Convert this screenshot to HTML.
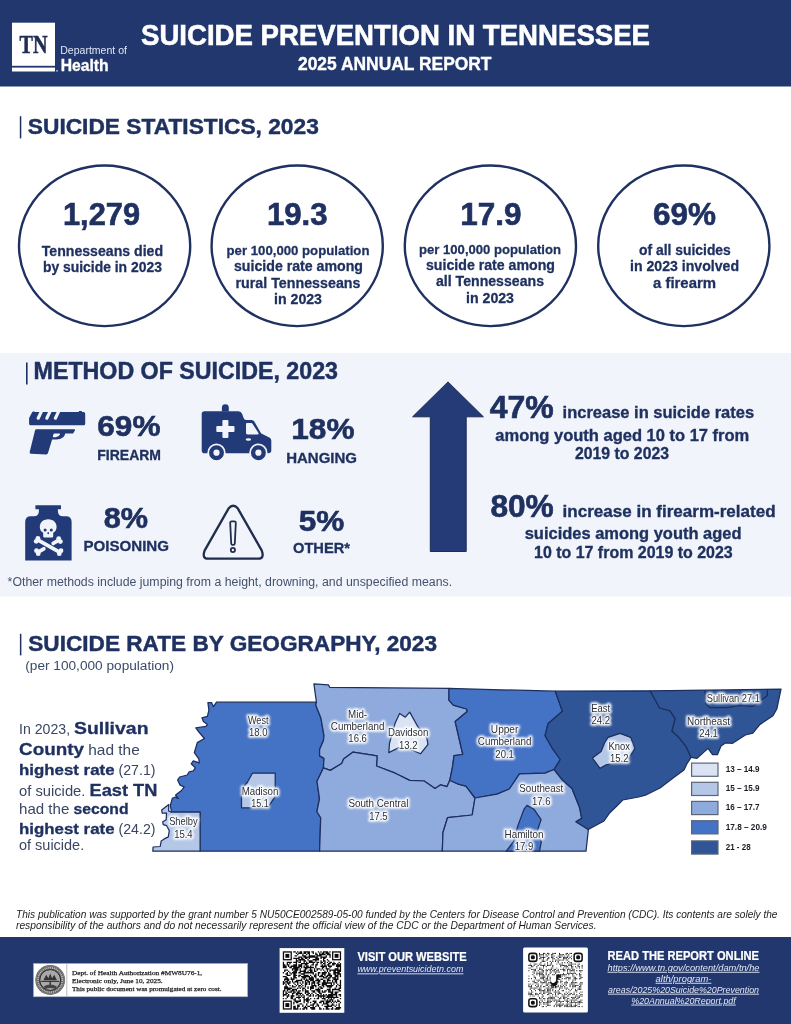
<!DOCTYPE html>
<html lang="en"><head><meta charset="utf-8"><title>Suicide Prevention in Tennessee - 2025 Annual Report</title>
<style>
html,body{margin:0;padding:0;background:#fff}
body{width:791px;height:1024px;overflow:hidden;font-family:'Liberation Sans', Arial, sans-serif}
svg{display:block}
</style></head><body>
<svg width="791" height="1024" viewBox="0 0 791 1024">
<g font-family="'Liberation Sans', Arial, sans-serif" fill="#1f3160">
<rect x="0" y="0" width="791" height="86.5" fill="#21376e"/>
<rect x="12" y="22.7" width="43" height="43.1" fill="#fff"/>
<rect x="12" y="67.6" width="43" height="3.9" fill="#fff"/>
<rect x="56.4" y="70.2" width="1.3" height="1.3" fill="#fff"/>
<text x="19.5" y="52.5" font-size="24.3" font-weight="bold" stroke="#1f2d55" stroke-width="0.49" fill="#1f2d55" textLength="28" lengthAdjust="spacingAndGlyphs" font-family="'Liberation Serif', 'Times New Roman', serif">TN</text>
<text x="60.2" y="54.2" font-size="10.97" fill="#dfe6f5" textLength="66.8" lengthAdjust="spacingAndGlyphs">Department of</text>
<text x="60.7" y="71.1" font-size="16.77" font-weight="bold" stroke="#fff" stroke-width="0.34" fill="#fff" textLength="48" lengthAdjust="spacingAndGlyphs">Health</text>
<text x="141" y="45.2" font-size="28.98" font-weight="bold" stroke="#fff" stroke-width="0.58" fill="#fff" textLength="509" lengthAdjust="spacingAndGlyphs">SUICIDE PREVENTION IN TENNESSEE</text>
<text x="298" y="69.7" font-size="17.59" font-weight="bold" stroke="#fff" stroke-width="0.35" fill="#fff" textLength="193.5" lengthAdjust="spacingAndGlyphs">2025 ANNUAL REPORT</text>
<rect x="19.8" y="116.2" width="1.5" height="22.2" fill="#1f3160"/>
<text x="27.8" y="133.5" font-size="22.77" font-weight="bold" stroke="#1f3160" stroke-width="0.46" textLength="291" lengthAdjust="spacingAndGlyphs">SUICIDE STATISTICS, 2023</text>
<ellipse cx="104.6" cy="245.8" rx="85.6" ry="80.3" fill="#fff" stroke="#1f3160" stroke-width="2.4"/>
<ellipse cx="297.2" cy="245.8" rx="85.6" ry="80.3" fill="#fff" stroke="#1f3160" stroke-width="2.4"/>
<ellipse cx="490.4" cy="245.8" rx="85.6" ry="80.3" fill="#fff" stroke="#1f3160" stroke-width="2.4"/>
<ellipse cx="683.8" cy="245.8" rx="85.6" ry="80.3" fill="#fff" stroke="#1f3160" stroke-width="2.4"/>
<text x="101.5" y="225.3" font-size="31.05" font-weight="bold" stroke="#1f3160" stroke-width="0.62" text-anchor="middle" textLength="77" lengthAdjust="spacingAndGlyphs">1,279</text>
<text x="102.4" y="256" font-size="14.49" font-weight="bold" stroke="#1f3160" stroke-width="0.29" text-anchor="middle" textLength="121.3" lengthAdjust="spacingAndGlyphs">Tennesseans died</text>
<text x="102.4" y="272.3" font-size="14.49" font-weight="bold" stroke="#1f3160" stroke-width="0.29" text-anchor="middle" textLength="119" lengthAdjust="spacingAndGlyphs">by suicide in 2023</text>
<text x="297.3" y="225.3" font-size="31.05" font-weight="bold" stroke="#1f3160" stroke-width="0.62" text-anchor="middle" textLength="60.7" lengthAdjust="spacingAndGlyphs">19.3</text>
<text x="298" y="255" font-size="13.66" font-weight="bold" stroke="#1f3160" stroke-width="0.27" text-anchor="middle" textLength="143" lengthAdjust="spacingAndGlyphs">per 100,000 population</text>
<text x="298.5" y="271.4" font-size="14.49" font-weight="bold" stroke="#1f3160" stroke-width="0.29" text-anchor="middle" textLength="129" lengthAdjust="spacingAndGlyphs">suicide rate among</text>
<text x="298" y="287.8" font-size="14.49" font-weight="bold" stroke="#1f3160" stroke-width="0.29" text-anchor="middle" textLength="125" lengthAdjust="spacingAndGlyphs">rural Tennesseans</text>
<text x="298" y="304.2" font-size="14.49" font-weight="bold" stroke="#1f3160" stroke-width="0.29" text-anchor="middle" textLength="48" lengthAdjust="spacingAndGlyphs">in 2023</text>
<text x="490.9" y="225" font-size="31.05" font-weight="bold" stroke="#1f3160" stroke-width="0.62" text-anchor="middle" textLength="61.2" lengthAdjust="spacingAndGlyphs">17.9</text>
<text x="490" y="253.7" font-size="13.66" font-weight="bold" stroke="#1f3160" stroke-width="0.27" text-anchor="middle" textLength="142" lengthAdjust="spacingAndGlyphs">per 100,000 population</text>
<text x="490.5" y="269.6" font-size="14.49" font-weight="bold" stroke="#1f3160" stroke-width="0.29" text-anchor="middle" textLength="129" lengthAdjust="spacingAndGlyphs">suicide rate among</text>
<text x="490" y="285.8" font-size="14.49" font-weight="bold" stroke="#1f3160" stroke-width="0.29" text-anchor="middle" textLength="108" lengthAdjust="spacingAndGlyphs">all Tennesseans</text>
<text x="490" y="302.5" font-size="14.49" font-weight="bold" stroke="#1f3160" stroke-width="0.29" text-anchor="middle" textLength="48" lengthAdjust="spacingAndGlyphs">in 2023</text>
<text x="684.5" y="225.3" font-size="31.05" font-weight="bold" stroke="#1f3160" stroke-width="0.62" text-anchor="middle" textLength="63" lengthAdjust="spacingAndGlyphs">69%</text>
<text x="684.9" y="255" font-size="14.49" font-weight="bold" stroke="#1f3160" stroke-width="0.29" text-anchor="middle" textLength="91.8" lengthAdjust="spacingAndGlyphs">of all suicides</text>
<text x="684.5" y="271.4" font-size="14.49" font-weight="bold" stroke="#1f3160" stroke-width="0.29" text-anchor="middle" textLength="109" lengthAdjust="spacingAndGlyphs">in 2023 involved</text>
<text x="684.5" y="288.3" font-size="14.49" font-weight="bold" stroke="#1f3160" stroke-width="0.29" text-anchor="middle" textLength="63" lengthAdjust="spacingAndGlyphs">a firearm</text>
<rect x="0" y="353" width="791" height="243.5" fill="#f1f4fa"/>
<rect x="26" y="362.5" width="1.6" height="22" fill="#1f3160"/>
<text x="33.6" y="379.3" font-size="23.08" font-weight="bold" stroke="#1f3160" stroke-width="0.46" textLength="304.4" lengthAdjust="spacingAndGlyphs">METHOD OF SUICIDE, 2023</text>
<g fill="#233a78"><path d="M29.1 417.9 L32.3 412 Q32.8 411.2 33.7 411.5 L35.4 412.1 H78.6 L79.2 411 H81.6 L82.2 412.1 H83.6 Q85.2 412.1 85.2 413.7 V423.7 Q85.2 425.3 83.6 425.3 H30.7 Q29.1 425.3 29.1 423.7 Z"/><path fill-rule="evenodd" d="M36.4 429.3 H74.2 Q75.6 429.3 74.9 430.5 L73.4 433 Q73 433.6 72.2 433.6 H65.2 C64.6 437.4 61.2 439.4 56.6 439.4 H52.1 L48 453 Q47.6 454.4 46.2 454.4 L31 453.7 Q29.2 453.6 29.7 451.9 L35 430.4 Q35.3 429.3 36.4 429.3 Z M54.2 433.6 H59.4 Q60.4 433.6 60 434.6 Q58.8 436.9 55.6 437.2 H53.6 Q52.6 437.2 52.9 436.2 L53.5 434.3 Q53.7 433.6 54.2 433.6 Z"/><g stroke="#f1f4fa" stroke-width="3.2" stroke-linecap="round"><path d="M42.3 409.6 L38.2 418.2 M50.9 409.6 L46.8 418.2 M59.5 409.6 L55.4 418.2"/></g></g>
<text x="97.3" y="436.2" font-size="28.98" font-weight="bold" stroke="#1f3160" stroke-width="0.58" textLength="63.2" lengthAdjust="spacingAndGlyphs">69%</text>
<text x="97.3" y="460.2" font-size="14.8" font-weight="bold" stroke="#1f3160" stroke-width="0.3" textLength="63.7" lengthAdjust="spacingAndGlyphs">FIREARM</text>
<g fill="#233a78"><path d="M221.9 411.5 V407.7 Q221.9 404.3 225.35 404.3 Q228.8 404.3 228.8 407.7 V411.5 Z"/><path fill-rule="evenodd" d="M204.5 411.3 H238.4 Q241.2 411.3 242.2 414 L243.6 418 Q244.2 420 246.2 420 H251.6 Q253.4 420 254.3 421.5 L260.6 432.6 Q261 433.3 261.8 433.7 L269.3 437.4 Q271.3 438.4 271.3 440.6 V450.2 Q271.3 453.2 268.3 453.2 H204.5 Q201.7 453.2 201.7 450.4 V414.1 Q201.7 411.3 204.5 411.3 Z M247 423.1 H251.2 Q252 423.1 252.5 423.8 L258.4 432.9 Q259.2 434.4 257.6 434.4 H247.4 Q246 434.4 246 433 V424.1 Q246 423.1 247 423.1 Z M223.4 419.9 H227.4 Q228.4 419.9 228.4 420.9 V426 H233.5 Q234.5 426 234.5 427 V431 Q234.5 432 233.5 432 H228.4 V437.1 Q228.4 438.1 227.4 438.1 H223.4 Q222.4 438.1 222.4 437.1 V432 H217.3 Q216.3 432 216.3 431 V427 Q216.3 426 217.3 426 H222.4 V420.9 Q222.4 419.9 223.4 419.9 Z"/><ellipse cx="248.4" cy="439.5" rx="2.7" ry="1.3" fill="#f1f4fa"/><circle cx="216.5" cy="452.7" r="8.3" stroke="#f1f4fa" stroke-width="1.7"/><circle cx="216.5" cy="452.7" r="3.1" fill="#f1f4fa"/><circle cx="258.4" cy="452.7" r="8.3" stroke="#f1f4fa" stroke-width="1.7"/><circle cx="258.4" cy="452.7" r="3.1" fill="#f1f4fa"/></g>
<text x="291.3" y="439.2" font-size="28.98" font-weight="bold" stroke="#1f3160" stroke-width="0.58" textLength="63.2" lengthAdjust="spacingAndGlyphs">18%</text>
<text x="286.2" y="462.7" font-size="14.8" font-weight="bold" stroke="#1f3160" stroke-width="0.3" textLength="70.8" lengthAdjust="spacingAndGlyphs">HANGING</text>
<g fill="#233a78"><path d="M35.4 505.2 H61 V509.3 H57.9 V511.2 Q57.9 516.2 63 516.2 H66 Q71.6 516.2 71.6 521.8 V560.5 H25.2 V521.8 Q25.2 516.2 30.8 516.2 H33.8 Q38.9 516.2 38.9 511.2 V509.3 H35.4 Z"/></g>
<g fill="#f1f4fa"><path d="M48.2 519.3 c-5.4 0 -8.4 3.6 -8.4 7.6 c0 2.6 1.2 4.6 3.4 5.8 v3.6 q0 1.2 1.2 1.2 h7.6 q1.2 0 1.2 -1.2 v-3.6 c2.2 -1.2 3.4 -3.2 3.4 -5.8 c0 -4 -3 -7.6 -8.4 -7.6 z"/><g stroke="#f1f4fa" stroke-width="3.8" stroke-linecap="round"><path d="M38.6 540.4 L58.6 551.6"/><path d="M38.9 551.6 L43.8 548.8 M53.2 543.4 L58 540.7"/></g><circle cx="37.9" cy="538.3" r="2.4"/><circle cx="36.2" cy="541.3" r="2.4"/><circle cx="58.7" cy="538.6" r="2.4"/><circle cx="60.4" cy="541.6" r="2.4"/><circle cx="38.2" cy="553.7" r="2.4"/><circle cx="36.5" cy="550.7" r="2.4"/><circle cx="59.3" cy="553.7" r="2.4"/><circle cx="61" cy="550.7" r="2.4"/></g>
<g fill="#233a78"><circle cx="45.1" cy="530" r="1.5"/><circle cx="51.3" cy="530" r="1.5"/><ellipse cx="48.2" cy="533.2" rx="0.8" ry="1.1"/></g>
<text x="103.7" y="528.2" font-size="28.98" font-weight="bold" stroke="#1f3160" stroke-width="0.58" textLength="44.3" lengthAdjust="spacingAndGlyphs">8%</text>
<text x="83.4" y="551.4" font-size="14.8" font-weight="bold" stroke="#1f3160" stroke-width="0.3" textLength="85.6" lengthAdjust="spacingAndGlyphs">POISONING</text>
<g fill="none" stroke="#212d4e" stroke-width="2.3" stroke-linejoin="round" stroke-linecap="round"><path d="M228.5 508.6 Q233.2 502.9 237.9 508.6 L261.8 550.6 Q264.6 558.8 258.2 558.7 H208.1 Q201.8 558.8 204.6 550.6 Z"/><path d="M230.2 523.2 Q230 521.4 231.8 521.4 H234.2 Q236 521.4 235.8 523.2 L234.8 543.4 Q234.7 544.8 233.5 544.8 H232.5 Q231.3 544.8 231.2 543.4 Z" stroke-width="1.8"/><circle cx="232.9" cy="550" r="2.1" stroke-width="1.8"/></g>
<text x="298.8" y="530.7" font-size="28.98" font-weight="bold" stroke="#1f3160" stroke-width="0.58" textLength="45.5" lengthAdjust="spacingAndGlyphs">5%</text>
<text x="293" y="553.4" font-size="14.8" font-weight="bold" stroke="#1f3160" stroke-width="0.3" textLength="57" lengthAdjust="spacingAndGlyphs">OTHER*</text>
<text x="7.6" y="586.3" font-size="12.01" fill="#44516e" textLength="444.5" lengthAdjust="spacingAndGlyphs">*Other methods include jumping from a height, drowning, and unspecified means.</text>
<path d="M448 381.9 L483.4 416.8 H466.2 V551.5 H430.3 V416.8 H412.6 Z" fill="#243b78" stroke="#1b2b55" stroke-width="1"/>
<text x="489.8" y="417.6" font-size="31.05" font-weight="bold" stroke="#1f3160" stroke-width="0.62" textLength="64" lengthAdjust="spacingAndGlyphs">47%</text>
<text x="562.6" y="417.8" font-size="16.77" font-weight="bold" stroke="#1f3160" stroke-width="0.34" textLength="191.5" lengthAdjust="spacingAndGlyphs">increase in suicide rates</text>
<text x="495.3" y="440.6" font-size="16.77" font-weight="bold" stroke="#1f3160" stroke-width="0.34" textLength="254" lengthAdjust="spacingAndGlyphs">among youth aged 10 to 17 from</text>
<text x="575" y="459" font-size="16.77" font-weight="bold" stroke="#1f3160" stroke-width="0.34" textLength="94" lengthAdjust="spacingAndGlyphs">2019 to 2023</text>
<text x="490.4" y="516.6" font-size="31.05" font-weight="bold" stroke="#1f3160" stroke-width="0.62" textLength="63.4" lengthAdjust="spacingAndGlyphs">80%</text>
<text x="562.6" y="516.8" font-size="16.77" font-weight="bold" stroke="#1f3160" stroke-width="0.34" textLength="213" lengthAdjust="spacingAndGlyphs">increase in firearm-related</text>
<text x="524.7" y="539.4" font-size="16.77" font-weight="bold" stroke="#1f3160" stroke-width="0.34" textLength="216.8" lengthAdjust="spacingAndGlyphs">suicides among youth aged</text>
<text x="534" y="558.4" font-size="16.77" font-weight="bold" stroke="#1f3160" stroke-width="0.34" textLength="198.7" lengthAdjust="spacingAndGlyphs">10 to 17 from 2019 to 2023</text>
<rect x="19.9" y="633.8" width="1.5" height="21.6" fill="#1f3160"/>
<text x="28.3" y="650.8" font-size="22.77" font-weight="bold" stroke="#1f3160" stroke-width="0.46" textLength="408.7" lengthAdjust="spacingAndGlyphs">SUICIDE RATE BY GEOGRAPHY, 2023</text>
<text x="25.3" y="670.2" font-size="12.42" fill="#3a4a6b" textLength="148.7" lengthAdjust="spacingAndGlyphs">(per 100,000 population)</text>
<text x="19" y="733.6" fill="#3a4663"><tspan font-size="14.5" textLength="55" lengthAdjust="spacingAndGlyphs">In 2023, </tspan><tspan font-size="17.3" font-weight="bold" fill="#1f3160" stroke="#1f3160" stroke-width="0.3" textLength="74.5" lengthAdjust="spacingAndGlyphs">Sullivan</tspan></text>
<text x="19" y="755.1" fill="#3a4663"><tspan font-size="17.3" font-weight="bold" fill="#1f3160" stroke="#1f3160" stroke-width="0.3" textLength="65" lengthAdjust="spacingAndGlyphs">County</tspan><tspan font-size="14.5" textLength="55.8" lengthAdjust="spacingAndGlyphs"> had the</tspan></text>
<text x="19" y="774.8" fill="#3a4663"><tspan font-size="14.5" font-weight="bold" fill="#1f3160" stroke="#1f3160" stroke-width="0.3" textLength="95.5" lengthAdjust="spacingAndGlyphs">highest rate</tspan><tspan font-size="14.5" textLength="41" lengthAdjust="spacingAndGlyphs"> (27.1)</tspan></text>
<text x="19" y="795.6" fill="#3a4663"><tspan font-size="14.5" textLength="70.5" lengthAdjust="spacingAndGlyphs">of suicide. </tspan><tspan font-size="17.3" font-weight="bold" fill="#1f3160" stroke="#1f3160" stroke-width="0.3" textLength="67.8" lengthAdjust="spacingAndGlyphs">East TN</tspan></text>
<text x="19" y="814.3" fill="#3a4663"><tspan font-size="14.5" textLength="54.5" lengthAdjust="spacingAndGlyphs">had the </tspan><tspan font-size="14.5" font-weight="bold" fill="#1f3160" stroke="#1f3160" stroke-width="0.3" textLength="55" lengthAdjust="spacingAndGlyphs">second</tspan></text>
<text x="19" y="833.5" fill="#3a4663"><tspan font-size="14.5" font-weight="bold" fill="#1f3160" stroke="#1f3160" stroke-width="0.3" textLength="95.5" lengthAdjust="spacingAndGlyphs">highest rate</tspan><tspan font-size="14.5" textLength="41" lengthAdjust="spacingAndGlyphs"> (24.2)</tspan></text>
<text x="19" y="850.4" fill="#3a4663"><tspan font-size="14.5" textLength="65.2" lengthAdjust="spacingAndGlyphs">of suicide.</tspan></text>
<g stroke="#1c2f5e" stroke-width="1.25" stroke-linejoin="round">
<polygon points="216.5,702.2 213.5,706.7 211.5,702.6 207.9,702.6 208.9,710.2 207.4,716.3 201.9,717.8 203.4,721.4 207.4,724.4 205.9,726.4 195.8,727.9 199.3,732.5 204.4,738.5 197.3,742.6 194.3,752.7 198.8,758.8 199.3,762.8 193.3,760.8 191.2,763.8 195.3,767.9 193.3,770.9 189.2,771.9 187.2,775.0 179.6,777.0 177.6,780.0 180.1,785.1 184.2,786.8 181.5,790.5 175.6,795.0 178.4,798.6 175.3,797.0 172.3,798.4 170.3,805.5 171.3,810.6 171.3,812.1 200.1,812.1 200.1,851.2 319.6,851.2 320.7,817.8 316.9,811.5 319.5,798.8 317.0,781.3 323.4,767.9 324.0,758.4 319.6,755.9 319.6,749.6 323.4,740.7 324.0,735.7 320.9,718.0 315.8,705.3 316.4,702.2" fill="#4472c4"/>
<polygon points="171.3,812.1 168.6,811.0 168.8,804.5 161.7,810.1 162.2,813.1 166.5,813.0 166.2,819.7 162.7,821.7 163.2,824.7 166.7,825.7 169.3,830.8 168.3,836.9 164.2,838.9 161.2,840.9 160.2,846.5 153.1,847.0 152.8,851.2 200.1,851.2 200.1,812.1" fill="#b4c7e7"/>
<polygon points="252.4,773.2 275.2,773.2 275.2,796.4 267.6,807.8 241.5,807.8 241.5,788.8 247.3,782.5" fill="#b4c7e7"/>
<polygon points="313.9,683.8 328.4,684.9 329.7,687.3 449.0,688.4 448.9,700.1 453.3,705.2 466.6,709.0 467.2,711.5 455.2,721.6 462.8,754.5 454.0,755.7 452.7,765.9 449.8,780.3 447.0,786.7 440.7,784.8 435.0,788.6 424.2,781.0 409.7,780.4 395.2,773.2 376.5,766.0 377.1,755.9 353.1,752.1 343.6,759.0 341.7,763.5 330.3,770.4 323.4,767.9 324.0,758.4 319.6,755.9 319.6,749.6 323.4,740.7 324.0,735.7 320.9,718.0 315.8,705.3 316.4,702.2 313.9,683.8" fill="#8faadc"/>
<polygon points="399.6,713.4 405.3,717.2 409.7,712.1 417.9,726.7 426.8,738.0 428.0,744.4 420.5,753.8 410.3,749.4 399.0,747.5 388.8,752.6 389.5,743.1 395.2,722.9" fill="#dae3f3"/>
<polygon points="323.4,767.9 317.0,781.3 319.5,798.8 316.9,811.5 320.7,817.8 319.6,851.2 442.3,851.2 443.0,832.5 447.5,817.7 472.2,815.0 475.0,798.0 466.0,786.1 458.4,784.2 449.8,780.3 447.0,786.7 440.7,784.8 435.0,788.6 424.2,781.0 409.7,780.4 395.2,773.2 376.5,766.0 377.1,755.9 353.1,752.1 343.6,759.0 341.7,763.5 330.3,770.4 323.4,767.9" fill="#8faadc"/>
<polygon points="449.0,688.4 448.9,700.1 453.3,705.2 466.6,709.0 467.2,711.5 455.2,721.6 462.8,754.5 454.0,755.7 452.7,765.9 449.8,780.3 458.4,784.2 466.0,786.1 475.0,798.0 497.0,794.2 509.4,789.0 519.5,773.9 545.0,773.2 554.1,769.5 560.3,759.5 552.0,747.8 545.1,735.6 548.0,723.8 562.4,711.2 555.3,691.2" fill="#4472c4"/>
<polygon points="554.1,769.5 545.0,773.2 519.5,773.9 509.4,789.0 497.0,794.2 475.0,798.0 472.2,815.0 447.5,817.7 443.0,832.5 442.3,851.2 586.0,851.2 588.4,829.5 576.0,821.7 581.7,818.4 579.6,807.4 572.0,788.5 562.5,780.0 554.1,769.5" fill="#8faadc"/>
<polygon points="527.0,805.4 534.1,809.4 541.1,819.6 537.0,831.8 541.3,841.9 539.5,851.2 506.2,851.2 513.4,841.9 517.9,825.6 523.9,809.4" fill="#4472c4"/>
<polygon points="555.3,691.2 562.4,711.2 548.0,723.8 545.1,735.6 552.0,747.8 560.3,759.5 554.1,769.5 562.5,780.0 572.0,788.5 579.6,807.4 581.7,818.4 576.0,821.7 588.4,829.5 591.0,828.0 604.0,821.0 609.3,813.4 616.3,806.5 622.7,800.0 638.7,797.0 645.4,795.2 660.0,788.0 674.4,777.0 684.0,770.0 687.0,763.6 691.0,757.3 686.0,746.3 678.2,736.7 672.0,731.0 675.2,718.6 669.8,710.6 659.6,708.0 650.2,690.8" fill="#2f5597"/>
<polygon points="608.0,737.4 620.0,733.4 630.7,737.4 634.9,748.4 629.3,757.6 617.5,762.6 606.2,764.8 600.0,768.4 592.4,758.0 601.1,751.5 604.5,743.0" fill="#b4c7e7"/>
<polygon points="650.2,690.8 659.6,708.0 669.8,710.6 675.2,718.6 672.0,731.0 678.2,736.7 686.0,746.3 691.0,757.3 697.0,758.4 708.0,748.4 712.6,754.7 717.4,754.7 721.0,746.0 725.4,742.9 732.6,743.3 745.4,735.0 752.8,733.2 760.0,724.4 773.0,715.8 776.8,709.0 781.0,689.2" fill="#2f5597"/>
<polyline points="705.0,690.2 705.4,703.5 709.8,707.5 727.5,707.6 740.2,705.4 752.8,706.4 767.4,695.6 767.4,689.4" fill="none"/>
</g>
<defs><filter id="glow" x="-30%" y="-30%" width="160%" height="160%"><feGaussianBlur stdDeviation="1.2"/></filter></defs>
<g font-size="10.1" text-anchor="middle" stroke="#fff" stroke-width="3.6" stroke-linejoin="round" fill="#fff" filter="url(#glow)">
<text x="258.2" y="723.7" textLength="20.5" lengthAdjust="spacingAndGlyphs">West</text>
<text x="258.2" y="735.9" textLength="18.5" lengthAdjust="spacingAndGlyphs">18.0</text>
<text x="260" y="795.1" textLength="36.7" lengthAdjust="spacingAndGlyphs">Madison</text>
<text x="260" y="807.2" textLength="17.5" lengthAdjust="spacingAndGlyphs">15.1</text>
<text x="183.4" y="825.4" textLength="28.5" lengthAdjust="spacingAndGlyphs">Shelby</text>
<text x="183.4" y="837.6" textLength="18.5" lengthAdjust="spacingAndGlyphs">15.4</text>
<text x="357.6" y="717.5" textLength="19" lengthAdjust="spacingAndGlyphs">Mid-</text>
<text x="357.6" y="729.6" textLength="53.5" lengthAdjust="spacingAndGlyphs">Cumberland</text>
<text x="357.6" y="742.3" textLength="18.5" lengthAdjust="spacingAndGlyphs">16.6</text>
<text x="408.2" y="735.9" textLength="40.5" lengthAdjust="spacingAndGlyphs">Davidson</text>
<text x="408.2" y="748.6" textLength="18.5" lengthAdjust="spacingAndGlyphs">13.2</text>
<text x="378.4" y="807.2" textLength="60" lengthAdjust="spacingAndGlyphs">South Central</text>
<text x="378.4" y="819.9" textLength="18.5" lengthAdjust="spacingAndGlyphs">17.5</text>
<text x="504.6" y="732.6" textLength="27.5" lengthAdjust="spacingAndGlyphs">Upper</text>
<text x="504.6" y="745.3" textLength="53.5" lengthAdjust="spacingAndGlyphs">Cumberland</text>
<text x="504.6" y="757.9" textLength="18.5" lengthAdjust="spacingAndGlyphs">20.1</text>
<text x="600.7" y="711.7" textLength="19" lengthAdjust="spacingAndGlyphs">East</text>
<text x="600.7" y="723.8" textLength="18.5" lengthAdjust="spacingAndGlyphs">24.2</text>
<text x="541.3" y="792.1" textLength="44" lengthAdjust="spacingAndGlyphs">Southeast</text>
<text x="541.3" y="804.7" textLength="18.5" lengthAdjust="spacingAndGlyphs">17.6</text>
<text x="524" y="837.6" textLength="39" lengthAdjust="spacingAndGlyphs">Hamilton</text>
<text x="524" y="849.7" textLength="18.5" lengthAdjust="spacingAndGlyphs">17.9</text>
<text x="619.3" y="749.6" textLength="21.5" lengthAdjust="spacingAndGlyphs">Knox</text>
<text x="619.3" y="761.7" textLength="18.5" lengthAdjust="spacingAndGlyphs">15.2</text>
<text x="733.3" y="701.5" textLength="53.1" lengthAdjust="spacingAndGlyphs">Sullivan 27.1</text>
<text x="708.6" y="725.1" textLength="43" lengthAdjust="spacingAndGlyphs">Northeast</text>
<text x="708.6" y="737.2" textLength="18.5" lengthAdjust="spacingAndGlyphs">24.1</text>
</g>
<g font-size="10.1" text-anchor="middle" fill="#2b2f38">
<text x="258.2" y="723.7" textLength="20.5" lengthAdjust="spacingAndGlyphs">West</text>
<text x="258.2" y="735.9" textLength="18.5" lengthAdjust="spacingAndGlyphs">18.0</text>
<text x="260" y="795.1" textLength="36.7" lengthAdjust="spacingAndGlyphs">Madison</text>
<text x="260" y="807.2" textLength="17.5" lengthAdjust="spacingAndGlyphs">15.1</text>
<text x="183.4" y="825.4" textLength="28.5" lengthAdjust="spacingAndGlyphs">Shelby</text>
<text x="183.4" y="837.6" textLength="18.5" lengthAdjust="spacingAndGlyphs">15.4</text>
<text x="357.6" y="717.5" textLength="19" lengthAdjust="spacingAndGlyphs">Mid-</text>
<text x="357.6" y="729.6" textLength="53.5" lengthAdjust="spacingAndGlyphs">Cumberland</text>
<text x="357.6" y="742.3" textLength="18.5" lengthAdjust="spacingAndGlyphs">16.6</text>
<text x="408.2" y="735.9" textLength="40.5" lengthAdjust="spacingAndGlyphs">Davidson</text>
<text x="408.2" y="748.6" textLength="18.5" lengthAdjust="spacingAndGlyphs">13.2</text>
<text x="378.4" y="807.2" textLength="60" lengthAdjust="spacingAndGlyphs">South Central</text>
<text x="378.4" y="819.9" textLength="18.5" lengthAdjust="spacingAndGlyphs">17.5</text>
<text x="504.6" y="732.6" textLength="27.5" lengthAdjust="spacingAndGlyphs">Upper</text>
<text x="504.6" y="745.3" textLength="53.5" lengthAdjust="spacingAndGlyphs">Cumberland</text>
<text x="504.6" y="757.9" textLength="18.5" lengthAdjust="spacingAndGlyphs">20.1</text>
<text x="600.7" y="711.7" textLength="19" lengthAdjust="spacingAndGlyphs">East</text>
<text x="600.7" y="723.8" textLength="18.5" lengthAdjust="spacingAndGlyphs">24.2</text>
<text x="541.3" y="792.1" textLength="44" lengthAdjust="spacingAndGlyphs">Southeast</text>
<text x="541.3" y="804.7" textLength="18.5" lengthAdjust="spacingAndGlyphs">17.6</text>
<text x="524" y="837.6" textLength="39" lengthAdjust="spacingAndGlyphs">Hamilton</text>
<text x="524" y="849.7" textLength="18.5" lengthAdjust="spacingAndGlyphs">17.9</text>
<text x="619.3" y="749.6" textLength="21.5" lengthAdjust="spacingAndGlyphs">Knox</text>
<text x="619.3" y="761.7" textLength="18.5" lengthAdjust="spacingAndGlyphs">15.2</text>
<text x="733.3" y="701.5" textLength="53.1" lengthAdjust="spacingAndGlyphs">Sullivan 27.1</text>
<text x="708.6" y="725.1" textLength="43" lengthAdjust="spacingAndGlyphs">Northeast</text>
<text x="708.6" y="737.2" textLength="18.5" lengthAdjust="spacingAndGlyphs">24.1</text>
</g>
<rect x="691.6" y="763.1" width="26.4" height="13.2" fill="#dae3f3" stroke="#5d6477" stroke-width="1.2"/>
<text x="725.7" y="772.2" font-size="8.8" font-weight="bold" fill="#1a1d26" textLength="33.9" lengthAdjust="spacingAndGlyphs">13 – 14.9</text>
<rect x="691.6" y="782.3" width="26.4" height="13.2" fill="#b4c7e7" stroke="#5d6477" stroke-width="1.2"/>
<text x="725.7" y="791.3" font-size="8.8" font-weight="bold" fill="#1a1d26" textLength="33.9" lengthAdjust="spacingAndGlyphs">15 – 15.9</text>
<rect x="691.6" y="801.4" width="26.4" height="13.2" fill="#8faadc" stroke="#5d6477" stroke-width="1.2"/>
<text x="725.7" y="810.3" font-size="8.8" font-weight="bold" fill="#1a1d26" textLength="33.9" lengthAdjust="spacingAndGlyphs">16 – 17.7</text>
<rect x="691.6" y="820.7" width="26.4" height="13.2" fill="#4472c4" stroke="#5d6477" stroke-width="1.2"/>
<text x="725.7" y="829.6" font-size="8.8" font-weight="bold" fill="#1a1d26" textLength="41.2" lengthAdjust="spacingAndGlyphs">17.8 – 20.9</text>
<rect x="691.6" y="840.9" width="26.4" height="13.2" fill="#2f5597" stroke="#5d6477" stroke-width="1.2"/>
<text x="725.7" y="850.4" font-size="8.8" font-weight="bold" fill="#1a1d26" textLength="25" lengthAdjust="spacingAndGlyphs">21 - 28</text>
<text x="16" y="917.5" font-size="10.56" fill="#1c1c1c" textLength="761.5" lengthAdjust="spacingAndGlyphs" font-style="italic">This publication was supported by the grant number 5 NU50CE002589-05-00 funded by the Centers for Disease Control and Prevention (CDC). Its contents are solely the</text>
<text x="16" y="928.6" font-size="10.56" fill="#1c1c1c" textLength="580.5" lengthAdjust="spacingAndGlyphs" font-style="italic">responsibility of the authors and do not necessarily represent the official view of the CDC or the Department of Human Services.</text>
<rect x="0" y="937" width="791" height="87" fill="#21376e"/>
<rect x="33.4" y="963.4" width="214.3" height="33.4" fill="#fff" stroke="#9aa0ad" stroke-width="0.6"/>
<line x1="66.8" y1="963.6" x2="66.8" y2="996.6" stroke="#8a8f9a" stroke-width="0.6"/>
<g fill="none"><circle cx="50.2" cy="980" r="14.9" fill="#5a5a5a"/><circle cx="50.2" cy="980" r="13.9" stroke="#dedede" stroke-width="0.6" stroke-dasharray="0.7 0.6"/><circle cx="50.2" cy="980" r="12.2" stroke="#c8c8c8" stroke-width="1.6" stroke-dasharray="1.1 0.8"/><circle cx="50.2" cy="980" r="10.4" fill="#a9a9a9" stroke="#2e2e2e" stroke-width="1"/><path d="M41.2 981.4 h18" stroke="#333" stroke-width="1.1"/><path d="M43.4 980.2 l2.8 -5.4 l2.2 3.4 l1.8 -4.6 l1.8 4.6 l2.2 -3.4 l2.8 5.4 z" fill="#333"/><path d="M50.2 981 v5.4" stroke="#333" stroke-width="1.4"/><path d="M43.6 986.4 q6.6 -3.8 13.2 0 l-1.6 2.6 q-5 -2.2 -10 0 z" fill="#444"/></g>
<text x="72" y="974.6" font-size="7" fill="#1a1a1a" textLength="130.2" lengthAdjust="spacingAndGlyphs" font-family="'Liberation Serif', 'Times New Roman', serif" stroke="#1a1a1a" stroke-width="0.25">Dept. of Health Authorization #MW8U76-1,</text>
<text x="72" y="983.2" font-size="7" fill="#1a1a1a" textLength="90.7" lengthAdjust="spacingAndGlyphs" font-family="'Liberation Serif', 'Times New Roman', serif" stroke="#1a1a1a" stroke-width="0.25">Electronic only, June 10, 2025.</text>
<text x="72" y="991.3" font-size="7" fill="#1a1a1a" textLength="149.5" lengthAdjust="spacingAndGlyphs" font-family="'Liberation Serif', 'Times New Roman', serif" stroke="#1a1a1a" stroke-width="0.25">This public document was promulgated at zero cost.</text>
<rect x="279.6" y="948.1" width="64.7" height="64.7" rx="0" fill="#fff"/>
<path d="M293.2 951.9h2.6M297.1 951.9h1.3M299.6 951.9h2.6M303.5 951.9h6.5M311.3 951.9h2.6M317.8 951.9h1.3M320.4 951.9h1.3M323.0 951.9h5.2M329.4 951.9h1.3M295.8 953.2h1.3M298.3 953.2h3.9M303.5 953.2h2.6M307.4 953.2h2.6M312.6 953.2h1.3M315.2 953.2h1.3M319.1 953.2h1.3M321.7 953.2h2.6M325.6 953.2h3.9M297.1 954.5h1.3M302.2 954.5h1.3M306.1 954.5h1.3M308.7 954.5h1.3M315.2 954.5h2.6M319.1 954.5h6.5M326.8 954.5h3.9M294.5 955.8h2.6M302.2 955.8h3.9M308.7 955.8h6.5M316.5 955.8h5.2M325.6 955.8h1.3M329.4 955.8h1.3M298.3 957.1h3.9M303.5 957.1h14.3M320.4 957.1h6.5M329.4 957.1h1.3M293.2 958.4h6.5M300.9 958.4h2.6M304.8 958.4h2.6M308.7 958.4h1.3M315.2 958.4h3.9M320.4 958.4h1.3M323.0 958.4h2.6M295.8 959.7h1.3M298.3 959.7h6.5M307.4 959.7h1.3M312.6 959.7h6.5M323.0 959.7h1.3M326.8 959.7h1.3M295.8 961.0h2.6M299.6 961.0h1.3M303.5 961.0h2.6M308.7 961.0h3.9M315.2 961.0h1.3M320.4 961.0h1.3M323.0 961.0h2.6M328.1 961.0h1.3M282.8 962.3h1.3M286.7 962.3h5.2M293.2 962.3h3.9M298.3 962.3h2.6M303.5 962.3h1.3M306.1 962.3h1.3M308.7 962.3h6.5M316.5 962.3h2.6M320.4 962.3h2.6M324.3 962.3h1.3M326.8 962.3h1.3M329.4 962.3h2.6M333.3 962.3h1.3M338.5 962.3h1.3M282.8 963.6h1.3M286.7 963.6h1.3M289.3 963.6h1.3M295.8 963.6h1.3M300.9 963.6h7.8M312.6 963.6h1.3M316.5 963.6h1.3M320.4 963.6h1.3M323.0 963.6h2.6M328.1 963.6h2.6M332.0 963.6h3.9M337.2 963.6h1.3M339.8 963.6h1.3M282.8 964.9h2.6M286.7 964.9h2.6M293.2 964.9h3.9M298.3 964.9h3.9M304.8 964.9h2.6M311.3 964.9h2.6M315.2 964.9h2.6M321.7 964.9h1.3M324.3 964.9h1.3M326.8 964.9h2.6M332.0 964.9h2.6M335.9 964.9h5.2M282.8 966.2h3.9M288.0 966.2h1.3M290.6 966.2h6.5M298.3 966.2h3.9M303.5 966.2h1.3M306.1 966.2h2.6M310.0 966.2h1.3M315.2 966.2h1.3M320.4 966.2h6.5M328.1 966.2h3.9M335.9 966.2h5.2M282.8 967.5h3.9M289.3 967.5h2.6M293.2 967.5h6.5M300.9 967.5h1.3M303.5 967.5h10.4M315.2 967.5h1.3M321.7 967.5h2.6M325.6 967.5h1.3M329.4 967.5h1.3M337.2 967.5h1.3M339.8 967.5h1.3M291.9 968.8h6.5M299.6 968.8h1.3M304.8 968.8h2.6M310.0 968.8h1.3M313.9 968.8h1.3M316.5 968.8h3.9M321.7 968.8h1.3M325.6 968.8h3.9M334.6 968.8h3.9M339.8 968.8h1.3M284.1 970.1h3.9M291.9 970.1h1.3M294.5 970.1h3.9M299.6 970.1h1.3M303.5 970.1h2.6M308.7 970.1h3.9M313.9 970.1h1.3M316.5 970.1h1.3M320.4 970.1h1.3M323.0 970.1h1.3M326.8 970.1h1.3M329.4 970.1h11.7M284.1 971.4h1.3M288.0 971.4h1.3M293.2 971.4h3.9M299.6 971.4h6.5M307.4 971.4h1.3M310.0 971.4h2.6M313.9 971.4h2.6M324.3 971.4h1.3M326.8 971.4h1.3M329.4 971.4h1.3M333.3 971.4h2.6M337.2 971.4h3.9M282.8 972.7h1.3M286.7 972.7h1.3M289.3 972.7h1.3M291.9 972.7h5.2M298.3 972.7h2.6M303.5 972.7h10.4M317.8 972.7h2.6M321.7 972.7h5.2M328.1 972.7h1.3M333.3 972.7h6.5M285.4 974.0h2.6M290.6 974.0h1.3M293.2 974.0h2.6M300.9 974.0h3.9M312.6 974.0h1.3M315.2 974.0h1.3M317.8 974.0h1.3M321.7 974.0h3.9M328.1 974.0h2.6M333.3 974.0h2.6M337.2 974.0h3.9M286.7 975.3h3.9M293.2 975.3h3.9M298.3 975.3h2.6M303.5 975.3h5.2M310.0 975.3h1.3M313.9 975.3h2.6M317.8 975.3h1.3M320.4 975.3h2.6M324.3 975.3h1.3M326.8 975.3h5.2M334.6 975.3h3.9M339.8 975.3h1.3M282.8 976.6h3.9M293.2 976.6h2.6M298.3 976.6h1.3M300.9 976.6h9.1M311.3 976.6h1.3M313.9 976.6h2.6M319.1 976.6h5.2M325.6 976.6h2.6M329.4 976.6h2.6M334.6 976.6h3.9M339.8 976.6h1.3M285.4 977.9h2.6M290.6 977.9h1.3M293.2 977.9h3.9M302.2 977.9h3.9M308.7 977.9h5.2M315.2 977.9h1.3M323.0 977.9h3.9M328.1 977.9h2.6M332.0 977.9h3.9M337.2 977.9h1.3M284.1 979.2h5.2M290.6 979.2h3.9M300.9 979.2h1.3M303.5 979.2h1.3M306.1 979.2h1.3M308.7 979.2h5.2M316.5 979.2h2.6M320.4 979.2h2.6M326.8 979.2h2.6M333.3 979.2h5.2M284.1 980.5h1.3M286.7 980.5h2.6M291.9 980.5h1.3M295.8 980.5h6.5M304.8 980.5h3.9M310.0 980.5h3.9M315.2 980.5h5.2M323.0 980.5h2.6M326.8 980.5h3.9M332.0 980.5h1.3M334.6 980.5h2.6M339.8 980.5h1.3M282.8 981.7h1.3M285.4 981.7h2.6M289.3 981.7h1.3M291.9 981.7h1.3M294.5 981.7h3.9M302.2 981.7h1.3M304.8 981.7h1.3M307.4 981.7h2.6M312.6 981.7h2.6M317.8 981.7h2.6M323.0 981.7h2.6M326.8 981.7h1.3M332.0 981.7h1.3M334.6 981.7h2.6M339.8 981.7h1.3M282.8 983.0h2.6M286.7 983.0h3.9M293.2 983.0h1.3M297.1 983.0h1.3M299.6 983.0h1.3M302.2 983.0h1.3M304.8 983.0h2.6M308.7 983.0h1.3M311.3 983.0h3.9M316.5 983.0h2.6M321.7 983.0h10.4M333.3 983.0h1.3M335.9 983.0h1.3M339.8 983.0h1.3M282.8 984.3h1.3M285.4 984.3h1.3M288.0 984.3h1.3M294.5 984.3h1.3M297.1 984.3h1.3M300.9 984.3h1.3M304.8 984.3h2.6M308.7 984.3h1.3M311.3 984.3h1.3M313.9 984.3h1.3M317.8 984.3h2.6M321.7 984.3h5.2M330.7 984.3h1.3M333.3 984.3h1.3M337.2 984.3h1.3M339.8 984.3h1.3M285.4 985.6h1.3M289.3 985.6h1.3M291.9 985.6h1.3M295.8 985.6h1.3M298.3 985.6h2.6M302.2 985.6h1.3M304.8 985.6h1.3M311.3 985.6h5.2M317.8 985.6h1.3M321.7 985.6h2.6M325.6 985.6h7.8M335.9 985.6h1.3M338.5 985.6h2.6M284.1 986.9h3.9M291.9 986.9h3.9M298.3 986.9h1.3M300.9 986.9h1.3M304.8 986.9h1.3M307.4 986.9h1.3M310.0 986.9h3.9M315.2 986.9h1.3M319.1 986.9h2.6M323.0 986.9h1.3M326.8 986.9h5.2M335.9 986.9h1.3M339.8 986.9h1.3M284.1 988.2h7.8M297.1 988.2h1.3M299.6 988.2h1.3M302.2 988.2h2.6M307.4 988.2h1.3M310.0 988.2h3.9M317.8 988.2h1.3M320.4 988.2h2.6M329.4 988.2h1.3M334.6 988.2h1.3M338.5 988.2h2.6M284.1 989.5h1.3M286.7 989.5h3.9M291.9 989.5h5.2M302.2 989.5h1.3M304.8 989.5h1.3M310.0 989.5h1.3M315.2 989.5h5.2M326.8 989.5h3.9M332.0 989.5h7.8M282.8 990.8h2.6M286.7 990.8h1.3M290.6 990.8h3.9M295.8 990.8h1.3M298.3 990.8h2.6M302.2 990.8h1.3M304.8 990.8h3.9M311.3 990.8h3.9M316.5 990.8h3.9M321.7 990.8h1.3M324.3 990.8h2.6M328.1 990.8h2.6M332.0 990.8h1.3M338.5 990.8h2.6M282.8 992.1h1.3M285.4 992.1h1.3M288.0 992.1h3.9M293.2 992.1h2.6M297.1 992.1h2.6M304.8 992.1h3.9M312.6 992.1h2.6M317.8 992.1h2.6M321.7 992.1h3.9M328.1 992.1h5.2M334.6 992.1h3.9M282.8 993.4h1.3M285.4 993.4h2.6M291.9 993.4h2.6M295.8 993.4h6.5M304.8 993.4h1.3M307.4 993.4h2.6M311.3 993.4h1.3M315.2 993.4h1.3M319.1 993.4h2.6M330.7 993.4h2.6M334.6 993.4h2.6M282.8 994.7h3.9M288.0 994.7h1.3M291.9 994.7h1.3M295.8 994.7h2.6M299.6 994.7h1.3M302.2 994.7h1.3M306.1 994.7h2.6M310.0 994.7h1.3M312.6 994.7h1.3M316.5 994.7h2.6M320.4 994.7h1.3M323.0 994.7h1.3M325.6 994.7h1.3M328.1 994.7h9.1M338.5 994.7h2.6M282.8 996.0h1.3M286.7 996.0h2.6M290.6 996.0h3.9M298.3 996.0h1.3M300.9 996.0h1.3M303.5 996.0h1.3M308.7 996.0h2.6M312.6 996.0h1.3M315.2 996.0h1.3M317.8 996.0h7.8M326.8 996.0h6.5M335.9 996.0h1.3M339.8 996.0h1.3M286.7 997.3h1.3M290.6 997.3h2.6M295.8 997.3h5.2M302.2 997.3h2.6M307.4 997.3h1.3M317.8 997.3h1.3M320.4 997.3h1.3M323.0 997.3h1.3M325.6 997.3h13.0M282.8 998.6h1.3M285.4 998.6h1.3M290.6 998.6h2.6M294.5 998.6h1.3M298.3 998.6h1.3M303.5 998.6h1.3M306.1 998.6h2.6M310.0 998.6h1.3M313.9 998.6h1.3M316.5 998.6h2.6M321.7 998.6h3.9M328.1 998.6h1.3M330.7 998.6h1.3M333.3 998.6h1.3M339.8 998.6h1.3M293.2 999.9h2.6M299.6 999.9h1.3M303.5 999.9h6.5M324.3 999.9h1.3M326.8 999.9h1.3M329.4 999.9h3.9M337.2 999.9h1.3M294.5 1001.2h6.5M303.5 1001.2h1.3M306.1 1001.2h2.6M312.6 1001.2h3.9M320.4 1001.2h3.9M325.6 1001.2h5.2M332.0 1001.2h1.3M334.6 1001.2h1.3M337.2 1001.2h2.6M293.2 1002.5h1.3M295.8 1002.5h2.6M303.5 1002.5h1.3M307.4 1002.5h1.3M310.0 1002.5h1.3M313.9 1002.5h2.6M319.1 1002.5h2.6M323.0 1002.5h1.3M325.6 1002.5h3.9M330.7 1002.5h1.3M333.3 1002.5h1.3M335.9 1002.5h1.3M339.8 1002.5h1.3M293.2 1003.8h1.3M299.6 1003.8h2.6M306.1 1003.8h1.3M312.6 1003.8h2.6M316.5 1003.8h1.3M323.0 1003.8h5.2M332.0 1003.8h1.3M338.5 1003.8h1.3M297.1 1005.1h2.6M302.2 1005.1h1.3M306.1 1005.1h1.3M310.0 1005.1h3.9M316.5 1005.1h2.6M321.7 1005.1h1.3M326.8 1005.1h2.6M330.7 1005.1h3.9M335.9 1005.1h1.3M338.5 1005.1h1.3M293.2 1006.4h2.6M297.1 1006.4h2.6M302.2 1006.4h1.3M304.8 1006.4h1.3M307.4 1006.4h2.6M312.6 1006.4h1.3M315.2 1006.4h1.3M317.8 1006.4h1.3M324.3 1006.4h7.8M334.6 1006.4h1.3M338.5 1006.4h1.3M293.2 1007.7h2.6M297.1 1007.7h1.3M303.5 1007.7h3.9M310.0 1007.7h5.2M319.1 1007.7h1.3M325.6 1007.7h2.6M332.0 1007.7h1.3M335.9 1007.7h5.2M293.2 1009.0h5.2M299.6 1009.0h1.3M302.2 1009.0h2.6M306.1 1009.0h1.3M311.3 1009.0h3.9M319.1 1009.0h2.6M323.0 1009.0h1.3M325.6 1009.0h3.9M330.7 1009.0h2.6M334.6 1009.0h5.2" fill="none" stroke="#0c0c0c" stroke-width="1.35"/>
<rect x="283.45" y="951.95" width="7.77" height="7.77" fill="none" stroke="#0c0c0c" stroke-width="1.30"/>
<rect x="285.39" y="953.89" width="3.89" height="3.89" fill="#0c0c0c"/>
<rect x="332.68" y="951.95" width="7.77" height="7.77" fill="none" stroke="#0c0c0c" stroke-width="1.30"/>
<rect x="334.62" y="953.89" width="3.89" height="3.89" fill="#0c0c0c"/>
<rect x="283.45" y="1001.18" width="7.77" height="7.77" fill="none" stroke="#0c0c0c" stroke-width="1.30"/>
<rect x="285.39" y="1003.12" width="3.89" height="3.89" fill="#0c0c0c"/>
<text x="357.4" y="960.9" font-size="12.11" font-weight="bold" stroke="#fff" stroke-width="0.24" fill="#fff" textLength="109.3" lengthAdjust="spacingAndGlyphs">VISIT OUR WEBSITE</text>
<text x="357.4" y="972.4" font-size="9.11" fill="#e4e9f5" textLength="106" lengthAdjust="spacingAndGlyphs" font-style="italic" text-decoration="underline">www.preventsuicidetn.com</text>
<rect x="523.1" y="947.6" width="64.8" height="64.8" rx="1.5" fill="#fff"/>
<path d="M539.5 953.4h0M543.5 953.4h0M544.8 953.4h0M547.5 953.4h0M548.8 953.4h0M552.8 953.4h0M554.2 953.4h0M555.5 953.4h0M559.5 953.4h0M566.2 953.4h0M567.5 953.4h0M570.1 953.4h0M571.5 953.4h0M539.5 954.7h0M540.9 954.7h0M542.2 954.7h0M543.5 954.7h0M546.2 954.7h0M548.8 954.7h0M551.5 954.7h0M552.8 954.7h0M559.5 954.7h0M560.8 954.7h0M562.2 954.7h0M563.5 954.7h0M566.2 954.7h0M568.8 954.7h0M539.5 956.0h0M540.9 956.0h0M543.5 956.0h0M546.2 956.0h0M547.5 956.0h0M551.5 956.0h0M552.8 956.0h0M554.2 956.0h0M558.2 956.0h0M559.5 956.0h0M560.8 956.0h0M562.2 956.0h0M564.8 956.0h0M567.5 956.0h0M568.8 956.0h0M571.5 956.0h0M540.9 957.4h0M542.2 957.4h0M543.5 957.4h0M544.8 957.4h0M548.8 957.4h0M551.5 957.4h0M552.8 957.4h0M556.8 957.4h0M559.5 957.4h0M560.8 957.4h0M563.5 957.4h0M564.8 957.4h0M566.2 957.4h0M567.5 957.4h0M570.1 957.4h0M539.5 958.7h0M540.9 958.7h0M543.5 958.7h0M547.5 958.7h0M548.8 958.7h0M552.8 958.7h0M554.2 958.7h0M558.2 958.7h0M563.5 958.7h0M564.8 958.7h0M566.2 958.7h0M568.8 958.7h0M571.5 958.7h0M542.2 960.0h0M543.5 960.0h0M546.2 960.0h0M547.5 960.0h0M552.8 960.0h0M555.5 960.0h0M556.8 960.0h0M558.2 960.0h0M559.5 960.0h0M560.8 960.0h0M562.2 960.0h0M563.5 960.0h0M566.2 960.0h0M567.5 960.0h0M542.2 961.4h0M543.5 961.4h0M544.8 961.4h0M550.2 961.4h0M552.8 961.4h0M555.5 961.4h0M558.2 961.4h0M568.8 961.4h0M540.9 962.7h0M547.5 962.7h0M551.5 962.7h0M558.2 962.7h0M562.2 962.7h0M564.8 962.7h0M567.5 962.7h0M570.1 962.7h0M571.5 962.7h0M530.2 964.0h0M534.2 964.0h0M535.5 964.0h0M536.9 964.0h0M539.5 964.0h0M540.9 964.0h0M544.8 964.0h0M547.5 964.0h0M550.2 964.0h0M551.5 964.0h0M556.8 964.0h0M559.5 964.0h0M560.8 964.0h0M562.2 964.0h0M568.8 964.0h0M570.1 964.0h0M571.5 964.0h0M572.8 964.0h0M574.1 964.0h0M575.5 964.0h0M578.1 964.0h0M579.5 964.0h0M528.9 965.4h0M530.2 965.4h0M531.5 965.4h0M534.2 965.4h0M538.2 965.4h0M540.9 965.4h0M542.2 965.4h0M543.5 965.4h0M544.8 965.4h0M547.5 965.4h0M548.8 965.4h0M550.2 965.4h0M552.8 965.4h0M560.8 965.4h0M562.2 965.4h0M563.5 965.4h0M564.8 965.4h0M566.2 965.4h0M568.8 965.4h0M570.1 965.4h0M571.5 965.4h0M578.1 965.4h0M582.1 965.4h0M531.5 966.7h0M532.9 966.7h0M536.9 966.7h0M543.5 966.7h0M546.2 966.7h0M552.8 966.7h0M560.8 966.7h0M564.8 966.7h0M566.2 966.7h0M567.5 966.7h0M571.5 966.7h0M572.8 966.7h0M575.5 966.7h0M578.1 966.7h0M579.5 966.7h0M582.1 966.7h0M528.9 968.0h0M530.2 968.0h0M536.9 968.0h0M539.5 968.0h0M540.9 968.0h0M543.5 968.0h0M551.5 968.0h0M552.8 968.0h0M556.8 968.0h0M563.5 968.0h0M566.2 968.0h0M568.8 968.0h0M571.5 968.0h0M572.8 968.0h0M576.8 968.0h0M579.5 968.0h0M582.1 968.0h0M531.5 969.3h0M532.9 969.3h0M534.2 969.3h0M535.5 969.3h0M539.5 969.3h0M540.9 969.3h0M542.2 969.3h0M546.2 969.3h0M548.8 969.3h0M550.2 969.3h0M551.5 969.3h0M554.2 969.3h0M555.5 969.3h0M558.2 969.3h0M560.8 969.3h0M562.2 969.3h0M563.5 969.3h0M564.8 969.3h0M567.5 969.3h0M568.8 969.3h0M570.1 969.3h0M572.8 969.3h0M574.1 969.3h0M528.9 970.7h0M534.2 970.7h0M535.5 970.7h0M538.2 970.7h0M542.2 970.7h0M543.5 970.7h0M546.2 970.7h0M547.5 970.7h0M550.2 970.7h0M552.8 970.7h0M554.2 970.7h0M556.8 970.7h0M558.2 970.7h0M563.5 970.7h0M564.8 970.7h0M567.5 970.7h0M570.1 970.7h0M571.5 970.7h0M572.8 970.7h0M574.1 970.7h0M576.8 970.7h0M579.5 970.7h0M580.8 970.7h0M582.1 970.7h0M532.9 972.0h0M534.2 972.0h0M536.9 972.0h0M539.5 972.0h0M540.9 972.0h0M542.2 972.0h0M543.5 972.0h0M546.2 972.0h0M550.2 972.0h0M551.5 972.0h0M554.2 972.0h0M555.5 972.0h0M556.8 972.0h0M558.2 972.0h0M559.5 972.0h0M567.5 972.0h0M570.1 972.0h0M574.1 972.0h0M580.8 972.0h0M534.2 973.3h0M536.9 973.3h0M538.2 973.3h0M539.5 973.3h0M540.9 973.3h0M542.2 973.3h0M546.2 973.3h0M550.2 973.3h0M555.5 973.3h0M563.5 973.3h0M567.5 973.3h0M568.8 973.3h0M570.1 973.3h0M571.5 973.3h0M572.8 973.3h0M574.1 973.3h0M575.5 973.3h0M579.5 973.3h0M532.9 974.7h0M536.9 974.7h0M539.5 974.7h0M540.9 974.7h0M542.2 974.7h0M543.5 974.7h0M546.2 974.7h0M548.8 974.7h0M552.8 974.7h0M554.2 974.7h0M558.2 974.7h0M560.8 974.7h0M562.2 974.7h0M563.5 974.7h0M564.8 974.7h0M566.2 974.7h0M568.8 974.7h0M572.8 974.7h0M576.8 974.7h0M579.5 974.7h0M580.8 974.7h0M528.9 976.0h0M534.2 976.0h0M539.5 976.0h0M542.2 976.0h0M543.5 976.0h0M544.8 976.0h0M547.5 976.0h0M548.8 976.0h0M560.8 976.0h0M562.2 976.0h0M564.8 976.0h0M572.8 976.0h0M574.1 976.0h0M579.5 976.0h0M580.8 976.0h0M534.2 977.3h0M535.5 977.3h0M540.9 977.3h0M542.2 977.3h0M543.5 977.3h0M544.8 977.3h0M547.5 977.3h0M550.2 977.3h0M560.8 977.3h0M566.2 977.3h0M567.5 977.3h0M568.8 977.3h0M570.1 977.3h0M574.1 977.3h0M575.5 977.3h0M580.8 977.3h0M582.1 977.3h0M528.9 978.7h0M531.5 978.7h0M535.5 978.7h0M540.9 978.7h0M542.2 978.7h0M543.5 978.7h0M546.2 978.7h0M547.5 978.7h0M550.2 978.7h0M562.2 978.7h0M564.8 978.7h0M566.2 978.7h0M568.8 978.7h0M570.1 978.7h0M574.1 978.7h0M575.5 978.7h0M576.8 978.7h0M579.5 978.7h0M580.8 978.7h0M534.2 980.0h0M536.9 980.0h0M538.2 980.0h0M539.5 980.0h0M543.5 980.0h0M544.8 980.0h0M546.2 980.0h0M547.5 980.0h0M548.8 980.0h0M550.2 980.0h0M560.8 980.0h0M568.8 980.0h0M572.8 980.0h0M574.1 980.0h0M575.5 980.0h0M528.9 981.3h0M532.9 981.3h0M534.2 981.3h0M538.2 981.3h0M540.9 981.3h0M544.8 981.3h0M546.2 981.3h0M560.8 981.3h0M562.2 981.3h0M566.2 981.3h0M572.8 981.3h0M534.2 982.7h0M535.5 982.7h0M536.9 982.7h0M540.9 982.7h0M542.2 982.7h0M543.5 982.7h0M544.8 982.7h0M546.2 982.7h0M548.8 982.7h0M550.2 982.7h0M560.8 982.7h0M564.8 982.7h0M566.2 982.7h0M567.5 982.7h0M571.5 982.7h0M572.8 982.7h0M574.1 982.7h0M575.5 982.7h0M576.8 982.7h0M580.8 982.7h0M582.1 982.7h0M528.9 984.0h0M530.2 984.0h0M532.9 984.0h0M536.9 984.0h0M538.2 984.0h0M542.2 984.0h0M546.2 984.0h0M547.5 984.0h0M548.8 984.0h0M562.2 984.0h0M564.8 984.0h0M566.2 984.0h0M570.1 984.0h0M571.5 984.0h0M572.8 984.0h0M574.1 984.0h0M579.5 984.0h0M580.8 984.0h0M582.1 984.0h0M528.9 985.3h0M531.5 985.3h0M535.5 985.3h0M538.2 985.3h0M540.9 985.3h0M546.2 985.3h0M547.5 985.3h0M550.2 985.3h0M551.5 985.3h0M552.8 985.3h0M558.2 985.3h0M560.8 985.3h0M563.5 985.3h0M566.2 985.3h0M570.1 985.3h0M572.8 985.3h0M574.1 985.3h0M575.5 985.3h0M576.8 985.3h0M578.1 985.3h0M580.8 985.3h0M528.9 986.7h0M530.2 986.7h0M531.5 986.7h0M536.9 986.7h0M538.2 986.7h0M540.9 986.7h0M543.5 986.7h0M544.8 986.7h0M548.8 986.7h0M551.5 986.7h0M552.8 986.7h0M555.5 986.7h0M556.8 986.7h0M558.2 986.7h0M560.8 986.7h0M562.2 986.7h0M564.8 986.7h0M570.1 986.7h0M572.8 986.7h0M574.1 986.7h0M575.5 986.7h0M579.5 986.7h0M580.8 986.7h0M530.2 988.0h0M531.5 988.0h0M532.9 988.0h0M534.2 988.0h0M535.5 988.0h0M536.9 988.0h0M539.5 988.0h0M540.9 988.0h0M546.2 988.0h0M547.5 988.0h0M548.8 988.0h0M550.2 988.0h0M551.5 988.0h0M559.5 988.0h0M560.8 988.0h0M562.2 988.0h0M564.8 988.0h0M566.2 988.0h0M567.5 988.0h0M572.8 988.0h0M578.1 988.0h0M579.5 988.0h0M580.8 988.0h0M530.2 989.3h0M534.2 989.3h0M538.2 989.3h0M539.5 989.3h0M540.9 989.3h0M544.8 989.3h0M547.5 989.3h0M548.8 989.3h0M550.2 989.3h0M552.8 989.3h0M559.5 989.3h0M566.2 989.3h0M568.8 989.3h0M571.5 989.3h0M575.5 989.3h0M578.1 989.3h0M579.5 989.3h0M580.8 989.3h0M531.5 990.7h0M535.5 990.7h0M539.5 990.7h0M540.9 990.7h0M542.2 990.7h0M543.5 990.7h0M544.8 990.7h0M547.5 990.7h0M548.8 990.7h0M550.2 990.7h0M552.8 990.7h0M555.5 990.7h0M558.2 990.7h0M562.2 990.7h0M563.5 990.7h0M570.1 990.7h0M575.5 990.7h0M576.8 990.7h0M528.9 992.0h0M531.5 992.0h0M532.9 992.0h0M540.9 992.0h0M543.5 992.0h0M544.8 992.0h0M546.2 992.0h0M547.5 992.0h0M548.8 992.0h0M550.2 992.0h0M554.2 992.0h0M555.5 992.0h0M556.8 992.0h0M558.2 992.0h0M559.5 992.0h0M566.2 992.0h0M568.8 992.0h0M574.1 992.0h0M576.8 992.0h0M580.8 992.0h0M582.1 992.0h0M528.9 993.3h0M530.2 993.3h0M531.5 993.3h0M535.5 993.3h0M536.9 993.3h0M539.5 993.3h0M540.9 993.3h0M543.5 993.3h0M544.8 993.3h0M548.8 993.3h0M550.2 993.3h0M551.5 993.3h0M555.5 993.3h0M558.2 993.3h0M559.5 993.3h0M560.8 993.3h0M564.8 993.3h0M567.5 993.3h0M570.1 993.3h0M571.5 993.3h0M574.1 993.3h0M579.5 993.3h0M528.9 994.6h0M530.2 994.6h0M531.5 994.6h0M532.9 994.6h0M535.5 994.6h0M536.9 994.6h0M538.2 994.6h0M542.2 994.6h0M547.5 994.6h0M548.8 994.6h0M552.8 994.6h0M555.5 994.6h0M558.2 994.6h0M562.2 994.6h0M564.8 994.6h0M566.2 994.6h0M568.8 994.6h0M570.1 994.6h0M572.8 994.6h0M574.1 994.6h0M576.8 994.6h0M580.8 994.6h0M582.1 994.6h0M530.2 996.0h0M532.9 996.0h0M534.2 996.0h0M538.2 996.0h0M542.2 996.0h0M543.5 996.0h0M550.2 996.0h0M552.8 996.0h0M555.5 996.0h0M556.8 996.0h0M562.2 996.0h0M563.5 996.0h0M564.8 996.0h0M567.5 996.0h0M568.8 996.0h0M575.5 996.0h0M576.8 996.0h0M578.1 996.0h0M579.5 996.0h0M580.8 996.0h0M582.1 996.0h0M539.5 997.3h0M542.2 997.3h0M548.8 997.3h0M550.2 997.3h0M551.5 997.3h0M552.8 997.3h0M554.2 997.3h0M558.2 997.3h0M560.8 997.3h0M563.5 997.3h0M564.8 997.3h0M566.2 997.3h0M571.5 997.3h0M572.8 997.3h0M574.1 997.3h0M575.5 997.3h0M578.1 997.3h0M579.5 997.3h0M539.5 998.6h0M540.9 998.6h0M543.5 998.6h0M544.8 998.6h0M547.5 998.6h0M548.8 998.6h0M550.2 998.6h0M551.5 998.6h0M552.8 998.6h0M554.2 998.6h0M559.5 998.6h0M560.8 998.6h0M563.5 998.6h0M564.8 998.6h0M567.5 998.6h0M568.8 998.6h0M572.8 998.6h0M574.1 998.6h0M576.8 998.6h0M578.1 998.6h0M540.9 1000.0h0M542.2 1000.0h0M544.8 1000.0h0M547.5 1000.0h0M548.8 1000.0h0M550.2 1000.0h0M552.8 1000.0h0M554.2 1000.0h0M555.5 1000.0h0M556.8 1000.0h0M558.2 1000.0h0M559.5 1000.0h0M564.8 1000.0h0M566.2 1000.0h0M567.5 1000.0h0M570.1 1000.0h0M571.5 1000.0h0M572.8 1000.0h0M574.1 1000.0h0M575.5 1000.0h0M576.8 1000.0h0M580.8 1000.0h0M582.1 1000.0h0M539.5 1001.3h0M542.2 1001.3h0M547.5 1001.3h0M548.8 1001.3h0M550.2 1001.3h0M551.5 1001.3h0M554.2 1001.3h0M556.8 1001.3h0M558.2 1001.3h0M559.5 1001.3h0M560.8 1001.3h0M562.2 1001.3h0M563.5 1001.3h0M566.2 1001.3h0M567.5 1001.3h0M568.8 1001.3h0M571.5 1001.3h0M574.1 1001.3h0M578.1 1001.3h0M579.5 1001.3h0M580.8 1001.3h0M539.5 1002.6h0M540.9 1002.6h0M543.5 1002.6h0M544.8 1002.6h0M546.2 1002.6h0M547.5 1002.6h0M548.8 1002.6h0M550.2 1002.6h0M556.8 1002.6h0M560.8 1002.6h0M567.5 1002.6h0M570.1 1002.6h0M571.5 1002.6h0M572.8 1002.6h0M574.1 1002.6h0M575.5 1002.6h0M576.8 1002.6h0M578.1 1002.6h0M579.5 1002.6h0M580.8 1002.6h0M582.1 1002.6h0M539.5 1004.0h0M540.9 1004.0h0M543.5 1004.0h0M544.8 1004.0h0M546.2 1004.0h0M547.5 1004.0h0M548.8 1004.0h0M555.5 1004.0h0M556.8 1004.0h0M558.2 1004.0h0M559.5 1004.0h0M560.8 1004.0h0M562.2 1004.0h0M563.5 1004.0h0M566.2 1004.0h0M567.5 1004.0h0M568.8 1004.0h0M570.1 1004.0h0M571.5 1004.0h0M575.5 1004.0h0M578.1 1004.0h0M579.5 1004.0h0M539.5 1005.3h0M547.5 1005.3h0M548.8 1005.3h0M550.2 1005.3h0M554.2 1005.3h0M556.8 1005.3h0M558.2 1005.3h0M559.5 1005.3h0M560.8 1005.3h0M562.2 1005.3h0M564.8 1005.3h0M566.2 1005.3h0M567.5 1005.3h0M570.1 1005.3h0M571.5 1005.3h0M574.1 1005.3h0M575.5 1005.3h0M576.8 1005.3h0M542.2 1006.6h0M543.5 1006.6h0M546.2 1006.6h0M554.2 1006.6h0M556.8 1006.6h0M559.5 1006.6h0M560.8 1006.6h0M564.8 1006.6h0M566.2 1006.6h0M567.5 1006.6h0M568.8 1006.6h0M570.1 1006.6h0M571.5 1006.6h0M572.8 1006.6h0M574.1 1006.6h0M575.5 1006.6h0M578.1 1006.6h0M579.5 1006.6h0M582.1 1006.6h0" fill="none" stroke="#222" stroke-width="1.20" stroke-linecap="round"/>
<rect x="528.87" y="953.37" width="7.99" height="7.99" rx="2.2" fill="none" stroke="#111" stroke-width="1.53"/>
<rect x="530.86" y="955.36" width="4.00" height="4.00" rx="1.6" fill="#111"/>
<rect x="574.14" y="953.37" width="7.99" height="7.99" rx="2.2" fill="none" stroke="#111" stroke-width="1.53"/>
<rect x="576.14" y="955.36" width="4.00" height="4.00" rx="1.6" fill="#111"/>
<rect x="528.87" y="998.64" width="7.99" height="7.99" rx="2.2" fill="none" stroke="#111" stroke-width="1.53"/>
<rect x="530.86" y="1000.64" width="4.00" height="4.00" rx="1.6" fill="#111"/>
<path transform="translate(550,974.4)" d="M6.2 0h4.6v3.4h-2.2v0.9h1.5v1h-2.6v1.5h1.1v1.2h-1.1v1.2c0 1.2-1 1.9-1.8 2.1v1.7h1v0.9h-2v-2.2h-1v2.2h-1.9v-0.9h0.9v-1.8c-1.6-0.7-2.5-1.8-2.7-4h1.1c0.4 1.1 1.1 1.5 2 1.5c1.4-0.2 3-1.4 3-3.1z" fill="#111"/>
<text x="607.5" y="960.4" font-size="12.11" font-weight="bold" stroke="#fff" stroke-width="0.24" fill="#fff" textLength="151.5" lengthAdjust="spacingAndGlyphs">READ THE REPORT ONLINE</text>
<text x="683.5" y="970.8" font-size="9.11" fill="#e4e9f5" text-anchor="middle" textLength="152" lengthAdjust="spacingAndGlyphs" font-style="italic" text-decoration="underline">https://www.tn.gov/content/dam/tn/he</text>
<text x="683.5" y="981.8" font-size="9.11" fill="#e4e9f5" text-anchor="middle" textLength="55.8" lengthAdjust="spacingAndGlyphs" font-style="italic" text-decoration="underline">alth/program-</text>
<text x="683.5" y="992.7" font-size="9.11" fill="#e4e9f5" text-anchor="middle" textLength="151" lengthAdjust="spacingAndGlyphs" font-style="italic" text-decoration="underline">areas/2025%20Suicide%20Prevention</text>
<text x="683.5" y="1003.6" font-size="9.11" fill="#e4e9f5" text-anchor="middle" textLength="104.5" lengthAdjust="spacingAndGlyphs" font-style="italic" text-decoration="underline">%20Annual%20Report.pdf</text>
</g>
</svg>
</body></html>
